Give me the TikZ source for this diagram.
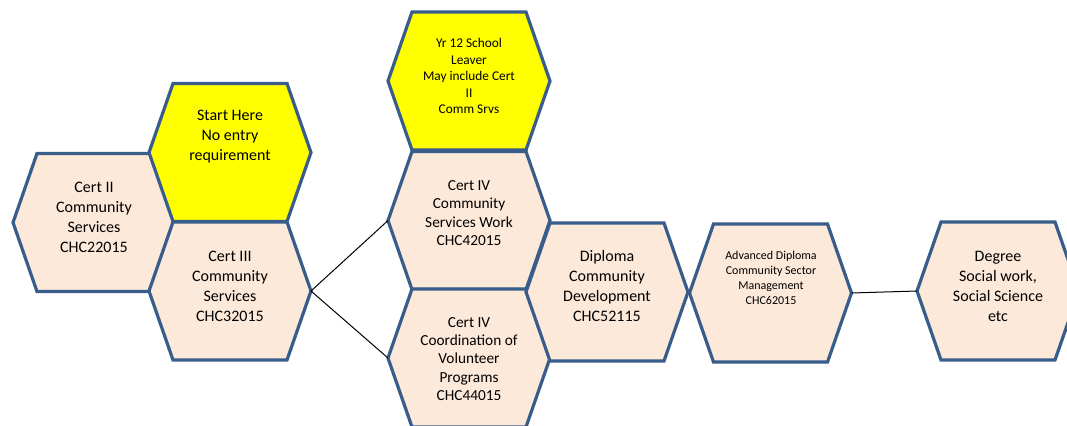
\documentclass[tikz,border=0pt]{standalone}
\usepackage{fontspec}
\setmainfont{Carlito}
\definecolor{hexborder}{HTML}{385D8A}
\definecolor{hexpeach}{HTML}{FDE9D9}
\definecolor{hexyellow}{HTML}{FFFF00}
\tikzset{
  hexline/.style={draw=hexborder, line width=2.4pt, line join=miter},
  celltext/.style={align=center, inner sep=0pt, font=\fontsize{12}{15}\selectfont},
  smalltext/.style={celltext, font=\fontsize{11.5}{13.75}\selectfont},
  yrtext/.style={celltext, font=\fontsize{10}{12.4}\selectfont},
  advtext/.style={celltext, font=\fontsize{9}{11.2}\selectfont},
  link/.style={draw=black, line width=0.75pt}
}
\newcommand\hexagonbox[3]{%
  \path (#2) coordinate (#1) +(-81,0) coordinate (#1-w) +(81,0) coordinate (#1-e);
  \draw[hexline,fill=#3] (#1-w) -- ++(24,-69) -- ++(114,0) -- (#1-e) -- ++(-24,69) -- ++(-114,0) -- cycle;
}
\begin{document}
\begin{tikzpicture}[x=0.75pt,y=-0.75pt]
\useasboundingbox (0,0) rectangle (1067,425);
\fill[white] (0,0) rectangle (1067,425);

\hexagonbox{cert2}{94,222.5}{hexpeach}
\hexagonbox{start}{230,152.5}{hexyellow}
\hexagonbox{cert3}{230,291}{hexpeach}
\hexagonbox{yr12}{469,81}{hexyellow}
\hexagonbox{csw}{469,220.5}{hexpeach}
\hexagonbox{coord}{469,358}{hexpeach}
\hexagonbox{dip}{607,292}{hexpeach}
\hexagonbox{adv}{770.5,293}{hexpeach}
\hexagonbox{deg}{998,291}{hexpeach}

\node[celltext] (t-cert2) at (94,217) {Cert II\\Community\\Services\\CHC22015};
\node[celltext] (t-start) at (230,137) {Start Here\\No entry\\requirement};
\node[celltext] (t-cert3) at (230,286) {Cert III\\Community\\Services\\CHC32015};
\node[yrtext] (t-yr12) at (469,76) {Yr 12 School\\Leaver\\May include Cert\\II\\Comm Srvs};
\node[smalltext] (t-csw) at (469,213) {Cert IV\\Community\\Services Work\\CHC42015};
\node[smalltext] (t-coord) at (469,359) {Cert IV\\Coordination of\\Volunteer\\Programs\\CHC44015};
\node[celltext] (t-dip) at (607,286) {Diploma\\Community\\Development\\CHC52115};
\node[advtext] (t-adv) at (771,278) {Advanced Diploma\\Community Sector\\Management\\CHC62015};
\node[celltext] (t-deg) at (998,286) {Degree\\Social work,\\Social Science\\etc};

\draw[link] (cert3-e) -- (csw-w);
\draw[link] (cert3-e) -- (coord-w);
\draw[link] (adv-e) -- (deg-w);
\end{tikzpicture}
\end{document}
